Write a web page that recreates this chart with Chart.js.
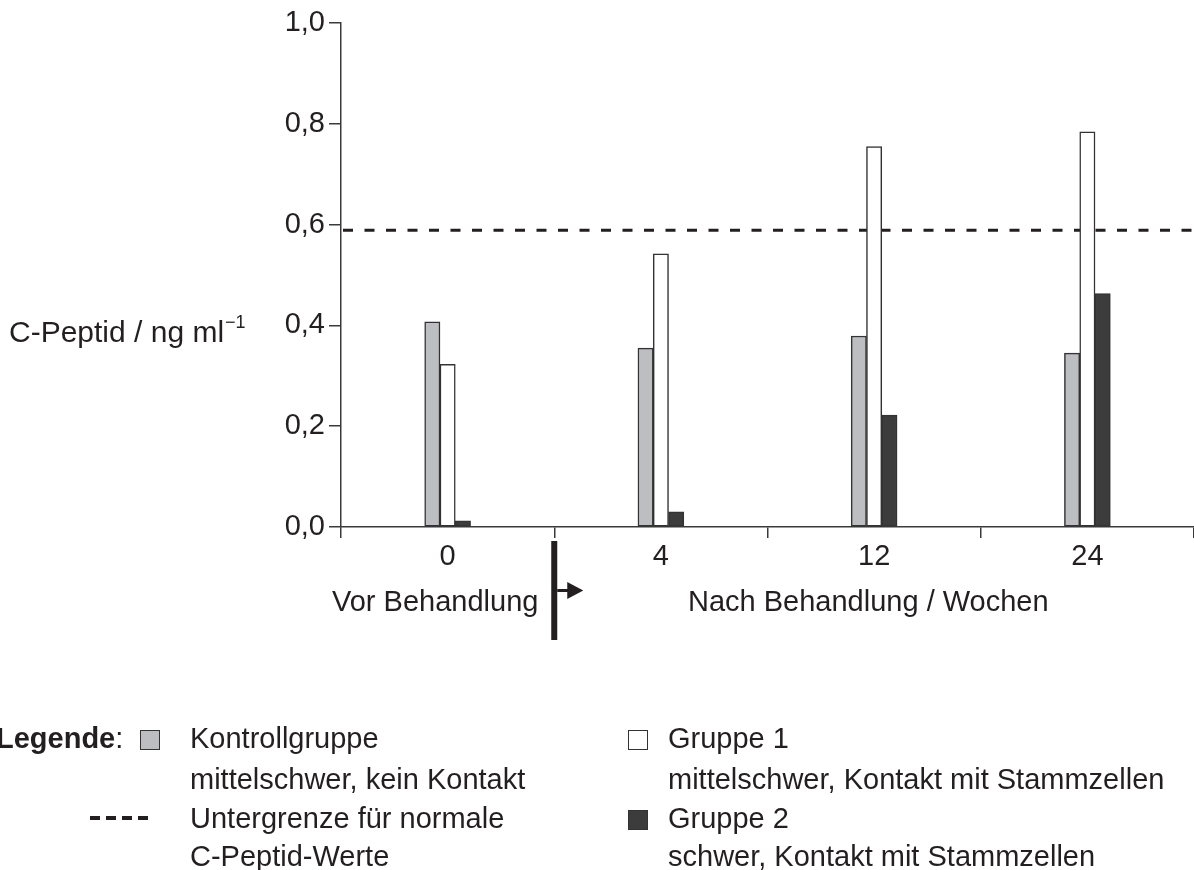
<!DOCTYPE html>
<html>
<head>
<meta charset="utf-8">
<script src="https://cdn.jsdelivr.net/npm/chart.js@4"></script>
<style>
  html, body { margin: 0; padding: 0; background: #fff; overflow: hidden; }
  #wrap { position: relative; width: 1194px; height: 870px; }
  #wrap canvas { position: absolute; left: 0; top: 0; }
  .t { position: absolute; font-family: "Liberation Sans", Arial, sans-serif; font-size: 29px; line-height: 29px; color: #231f20; white-space: nowrap; }
  .t sup { font-size: 18px; position: relative; top: -9px; vertical-align: top; margin-left: 1px; }
  .box { position: absolute; width: 18px; height: 18px; border: 1.5px solid #333; }
  .dash { position: absolute; width: 10px; height: 4px; background: #231f20; }
</style>
</head>
<body>
<div id="wrap">
  <canvas id="chart" width="1194" height="870"></canvas>

  <div class="t" style="left:9px; top:317px; font-size:30px;">C-Peptid / ng ml<sup>&minus;1</sup></div>
  <div class="t" style="left:332px; top:587px;">Vor Behandlung</div>
  <div class="t" style="left:688px; top:587px;">Nach Behandlung / Wochen</div>

  <div class="t" style="left:-4px; top:724px;"><b>Legende</b>:</div>
  <div class="box" style="left:140px; top:730px; background:#bdbec2;"></div>
  <div class="t" style="left:190px; top:724px;">Kontrollgruppe</div>
  <div class="t" style="left:190px; top:765px;">mittelschwer, kein Kontakt</div>

  <div class="dash" style="left:90px; top:816px;"></div>
  <div class="dash" style="left:106px; top:816px;"></div>
  <div class="dash" style="left:122px; top:816px;"></div>
  <div class="dash" style="left:138px; top:816px;"></div>
  <div class="t" style="left:190px; top:804px;">Untergrenze für normale</div>
  <div class="t" style="left:190px; top:842px;">C-Peptid-Werte</div>

  <div class="box" style="left:628px; top:730px; background:#fff;"></div>
  <div class="t" style="left:668px; top:724px;">Gruppe 1</div>
  <div class="t" style="left:668px; top:765px;">mittelschwer, Kontakt mit Stammzellen</div>

  <div class="box" style="left:628px; top:810px; background:#3c3c3c;"></div>
  <div class="t" style="left:668px; top:804px;">Gruppe 2</div>
  <div class="t" style="left:668px; top:842px;">schwer, Kontakt mit Stammzellen</div>
</div>

<script>
// Wochen
const weeks = ['0', '4', '12', '24']
// C-Peptid ng/ml
const kontrolle = [0.407, 0.355, 0.379, 0.345]
const gruppe1 = [0.323, 0.542, 0.755, 0.784]
const gruppe2 = [0.012, 0.030, 0.222, 0.463]
// Untergrenze normale Werte
const untergrenze = 0.589
const yTicks = [0, 0.2, 0.4, 0.6, 0.8, 1.0]

const ink = '#231f20'
const axisCol = '#3a3a3a'

// dashed limit line (under the bars) + divider arrow
const extras = {
    id: 'extras',
    beforeDatasetsDraw(chart) {
        const ctx = chart.ctx
        const a = chart.chartArea
        const y = chart.scales.y.getPixelForValue(untergrenze)
        ctx.save()
        ctx.strokeStyle = ink
        ctx.lineWidth = 3
        ctx.setLineDash([10, 11.5])
        ctx.beginPath()
        ctx.moveTo(a.left + 2, y)
        ctx.lineTo(a.right, y)
        ctx.stroke()
        ctx.restore()
    },
    afterDraw(chart) {
        const ctx = chart.ctx
        const x = chart.scales.x.getPixelForValue(0.5)
        ctx.save()
        ctx.fillStyle = ink
        ctx.fillRect(x - 3, 541, 6, 99)
        ctx.fillRect(x + 3, 589, 11, 3)
        ctx.beginPath()
        ctx.moveTo(x + 13, 582)
        ctx.lineTo(x + 29, 590.5)
        ctx.lineTo(x + 13, 599)
        ctx.closePath()
        ctx.fill()
        ctx.restore()
    }
}

function barSet(label, values, fill) {
    return {
        label: label,
        data: values,
        backgroundColor: fill,
        borderColor: '#333',
        borderWidth: 1.5,
        borderSkipped: false,
        barThickness: 15.3
    }
}

const data = {
    labels: weeks,
    datasets: [
        barSet('Kontrollgruppe', kontrolle, '#bdbec2'),
        barSet('Gruppe 1', gruppe1, '#ffffff'),
        barSet('Gruppe 2', gruppe2, '#3c3c3c')
    ]
}

const config = {
    type: 'bar',
    data: data,
    options: {
        responsive: false,
        animation: false,
        devicePixelRatio: 1,
        layout: { padding: { top: 23, left: 0, right: 0, bottom: 0 } },
        plugins: { legend: { display: false }, tooltip: { enabled: false } },
        scales: {
            x: {
                offset: true,
                afterFit(scale) { scale.height = 343 },
                border: { color: axisCol, width: 1.5 },
                grid: { offset: true, drawOnChartArea: false, drawTicks: true, tickLength: 11, color: axisCol, lineWidth: 1.5 },
                ticks: { color: ink, padding: 2, font: { family: 'Liberation Sans', size: 29 } }
            },
            y: {
                min: 0,
                max: 1,
                afterFit(scale) { scale.width = 341 },
                afterBuildTicks(scale) { scale.ticks = yTicks.map(v => ({ value: v })) },
                border: { color: axisCol, width: 1.5 },
                grid: { drawOnChartArea: false, drawTicks: true, tickLength: 12, color: axisCol, lineWidth: 1.5 },
                ticks: {
                    color: ink,
                    padding: 4,
                    font: { family: 'Liberation Sans', size: 29 },
                    callback: v => v.toFixed(1).replace('.', ',')
                }
            }
        }
    },
    plugins: [extras]
}

new Chart(document.getElementById('chart').getContext('2d'), config)
</script>
</body>
</html>
